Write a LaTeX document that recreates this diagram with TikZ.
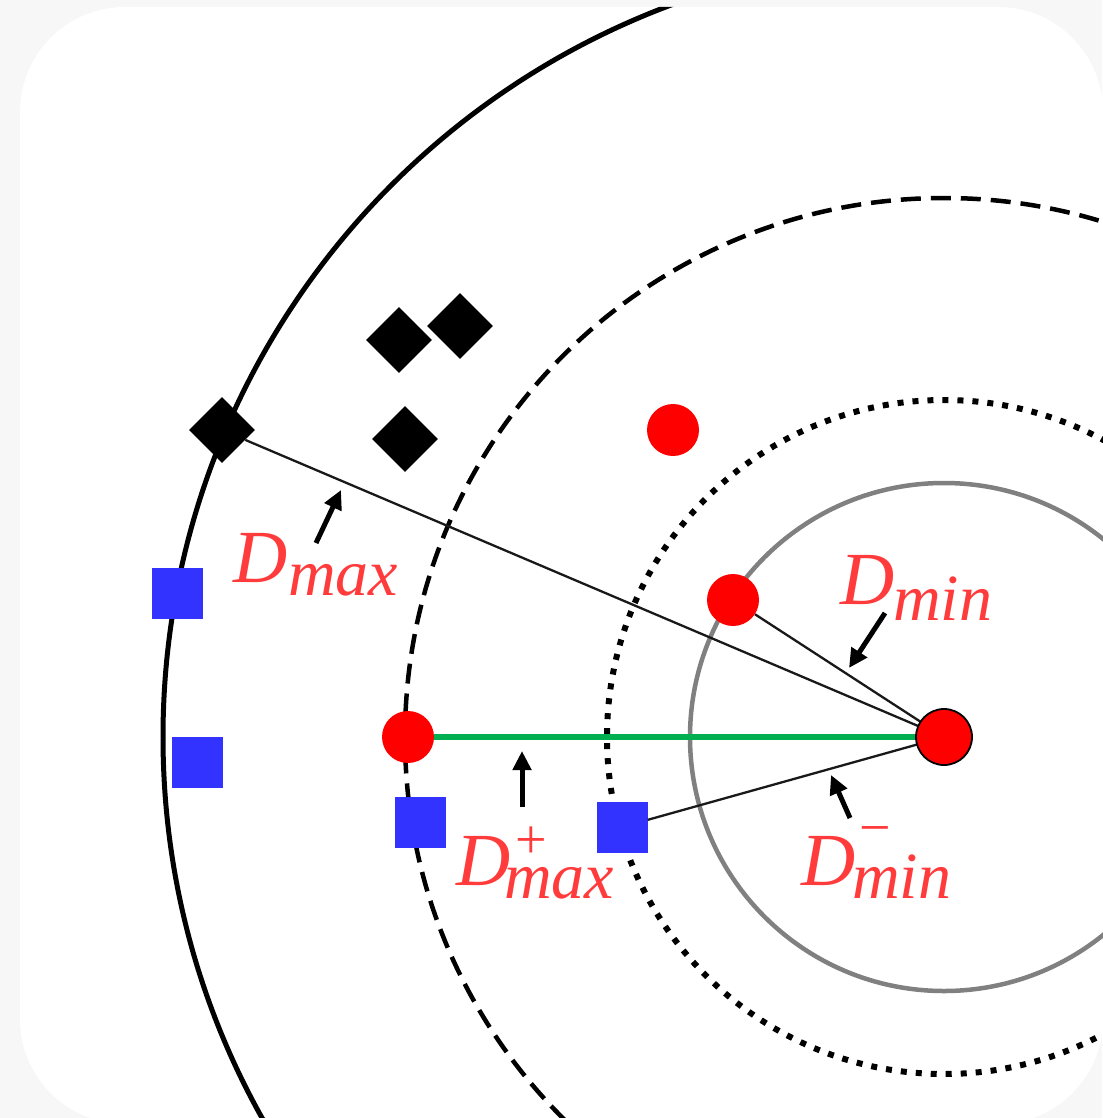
\documentclass[tikz,border=0pt]{standalone}
\usepackage{fontspec}
\setmainfont{Liberation Serif}
\usetikzlibrary{arrows.meta,shapes.geometric}
\definecolor{bgc}{HTML}{F7F7F7}
\definecolor{redtxt}{HTML}{FF3B3B}
\definecolor{dotred}{HTML}{FF0000}
\definecolor{sqblue}{HTML}{3333FF}
\definecolor{lgreen}{HTML}{00B050}
\definecolor{ringgray}{HTML}{808080}
\begin{document}
\begin{tikzpicture}[x=1pt,y=-1pt,
  reddot/.style={circle, fill=dotred, minimum size=52pt, inner sep=0pt},
  ctrdot/.style={circle, fill=dotred, draw=black, line width=1.8pt, minimum size=56pt, inner sep=0pt},
  bsq/.style={rectangle, fill=sqblue, minimum size=51pt, inner sep=0pt},
  bdia/.style={diamond, fill=black, minimum width=66pt, minimum height=66pt, inner sep=0pt},
  link/.style={draw=black!90, line width=2.3pt},
  arr/.style={line width=5pt, -{Triangle[length=19pt,width=18pt]}},
  lblD/.style={text=redtxt, font=\fontsize{75}{75}\selectfont\itshape, inner sep=0pt, anchor=base west},
  lblS/.style={text=redtxt, font=\fontsize{66}{66}\selectfont\itshape, inner sep=0pt, anchor=base west},
  lblP/.style={text=redtxt, font=\fontsize{56}{56}\selectfont, inner sep=0pt},
]
\useasboundingbox (0,0) rectangle (1102,1118);
\fill[bgc] (0,0) rectangle (1102,1118);
\fill[white, rounded corners=105pt] (20,7) rectangle (1103,1124);

\begin{scope}
  \clip[rounded corners=105pt] (20,7) rectangle (1103,1124);
  \draw[black, line width=5pt] (944,737) circle[radius=781pt];
  \draw[black, line width=4.5pt, dash pattern=on 20pt off 10pt] (944,737) circle[radius=539pt];
  \draw[black, line width=6pt, dash pattern=on 6pt off 9pt] (944,737) circle[radius=337pt];
  \draw[ringgray, line width=4.5pt] (944,737) circle[radius=254pt];
\end{scope}

% markers
\node[bdia] (k1) at (222,430) {};
\node[bdia] (k2) at (399,340) {};
\node[bdia] (k3) at (460,326) {};
\node[bdia] (k4) at (405,439) {};

\node[bsq] (b1) at (177,593) {};
\node[bsq] (b2) at (197,762) {};
\node[bsq] (b3) at (420,822) {};
\node[bsq] (b4) at (622,827) {};

\node[reddot] (r1) at (673,430) {};
\node[reddot] (r2) at (733,600) {};
\node[reddot] (r3) at (408,737) {};

\coordinate (cc) at (944,737);

% connectors
\draw[link] (k1) -- (cc);
\draw[link] (r2) -- (cc);
\draw[link] (b4) -- (cc);
\draw[lgreen, line width=6pt] (r3) -- (cc);

\node[ctrdot] (c) at (944,737) {};

% labels
\node[lblD] (dmaxD) at (233,582) {D};
\node[lblS] (dmaxS) at (288,595) {max};

\node[lblD] (dminD) at (840,604) {D};
\node[lblS] (dminS) at (893,620) {min};

\node[lblD] (dmpD) at (456,885) {D};
\node[lblS] (dmpS) at (504,898) {max};
\node[lblP] (dmpP) at (531,843) {+};

\node[lblD] (dmmD) at (801,885) {D};
\node[lblS] (dmmS) at (852,898) {min};
\node[lblP] (dmmP) at (875,836) {−};

% pointer arrows
\coordinate (a1s) at (316,543); \coordinate (a1e) at (341,490);
\coordinate (a2s) at (885,613); \coordinate (a2e) at (849,668);
\coordinate (a3s) at (522,807); \coordinate (a3e) at (522,751);
\coordinate (a4s) at (850,818); \coordinate (a4e) at (831,775);
\draw[arr] (a1s) -- (a1e);
\draw[arr] (a2s) -- (a2e);
\draw[arr] (a3s) -- (a3e);
\draw[arr] (a4s) -- (a4e);
\end{tikzpicture}
\end{document}
